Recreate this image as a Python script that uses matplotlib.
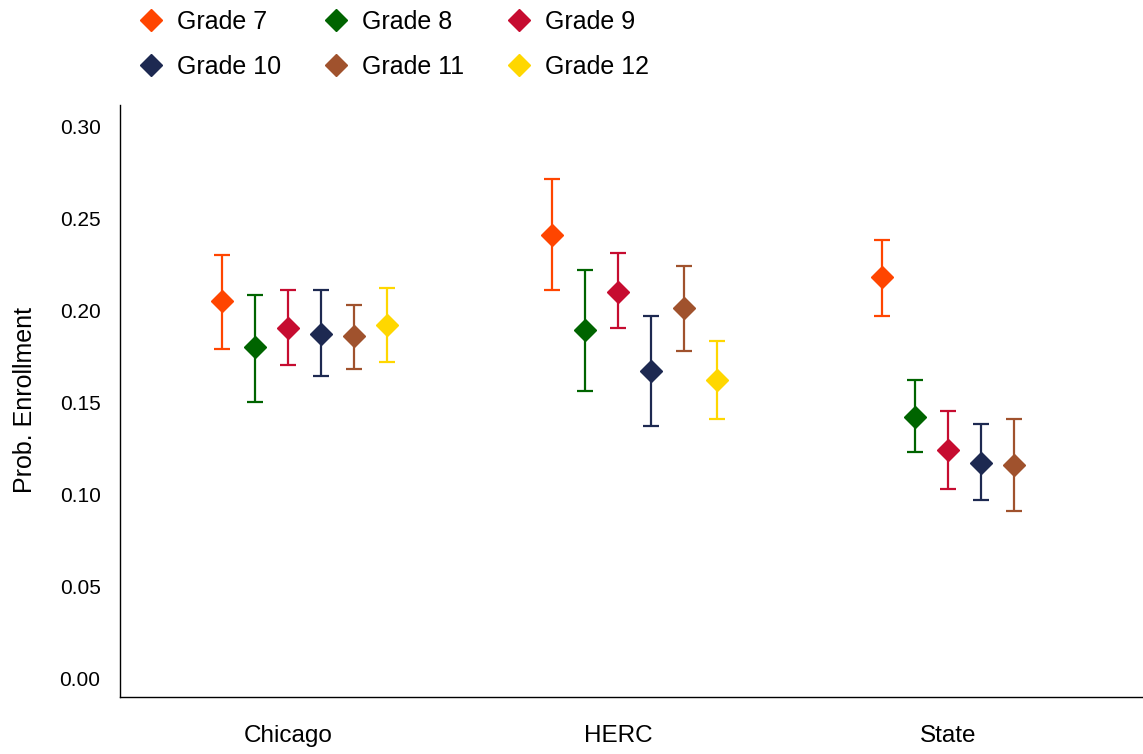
import numpy as np
import matplotlib.pyplot as plt
from matplotlib.lines import Line2D

plt.rcParams['font.family'] = ['Liberation Sans', 'DejaVu Sans']

regions = ["Chicago", "HERC", "State"]
grades = ["Grade 7", "Grade 8", "Grade 9", "Grade 10", "Grade 11", "Grade 12"]
colors = ["#FF4500", "#006400", "#C60C30", "#1D2951", "#A0522D", "#FFD700"]

# estimates per grade: [Chicago, HERC, State]; None = no data
est = [
    [0.205, 0.241, 0.218],
    [0.180, 0.189, 0.142],
    [0.190, 0.210, 0.124],
    [0.187, 0.167, 0.117],
    [0.186, 0.201, 0.116],
    [0.192, 0.162, None],
]
lower = [
    [0.179, 0.211, 0.197],
    [0.150, 0.156, 0.123],
    [0.170, 0.190, 0.103],
    [0.164, 0.137, 0.097],
    [0.168, 0.178, 0.091],
    [0.172, 0.141, None],
]
upper = [
    [0.230, 0.271, 0.238],
    [0.208, 0.222, 0.162],
    [0.211, 0.231, 0.145],
    [0.211, 0.197, 0.138],
    [0.203, 0.224, 0.141],
    [0.212, 0.183, None],
]

fig = plt.figure(figsize=(11.43, 7.54), dpi=100)
ax = fig.add_axes([0.105, 0.0756, 0.895, 0.785])

base = np.arange(1, len(regions) + 1)
for i, g in enumerate(grades):
    for j in range(len(regions)):
        if est[i][j] is None:
            continue
        x = base[j] + (i - 2) * 0.1
        y = est[i][j]
        ax.errorbar(x, y, yerr=[[y - lower[i][j]], [upper[i][j] - y]],
                    fmt='D', color=colors[i], markersize=11, elinewidth=1.6,
                    capsize=6, capthick=1.6)

ax.set_xlim(0.49, 3.59)
ax.set_ylim(-0.0103, 0.3114)
ax.set_xticks(base)
ax.set_xticklabels(regions, fontsize=17.5)
ax.set_yticks([0, 0.05, 0.10, 0.15, 0.20, 0.25, 0.30])
ax.set_yticklabels(["0.00", "0.05", "0.10", "0.15", "0.20", "0.25", "0.30"], fontsize=15)
ax.tick_params(axis='both', length=0)
ax.tick_params(axis='y', pad=14)
ax.tick_params(axis='x', pad=20)
for s in ['top', 'right']:
    ax.spines[s].set_visible(False)
for s in ['left', 'bottom']:
    ax.spines[s].set_linewidth(1.0)

fig.text(25 / 1143, 0.4695, "Prob. Enrollment", rotation=90, fontsize=18,
         ha='center', va='center')

# legend: 3 columns, filled row-wise
order = [0, 3, 1, 4, 2, 5]
handles = [Line2D([], [], marker='D', linestyle='none', color=colors[k], markersize=11) for k in order]
labels = [grades[k] for k in order]
fig.legend(handles, labels, ncol=3, frameon=False, loc='upper left',
           bbox_to_anchor=(0.1103, 1.0), borderaxespad=0, fontsize=18,
           handletextpad=0.44, columnspacing=1.6, labelspacing=0.84,
           handlelength=1.2)

fig.savefig("out.png", dpi=100)
